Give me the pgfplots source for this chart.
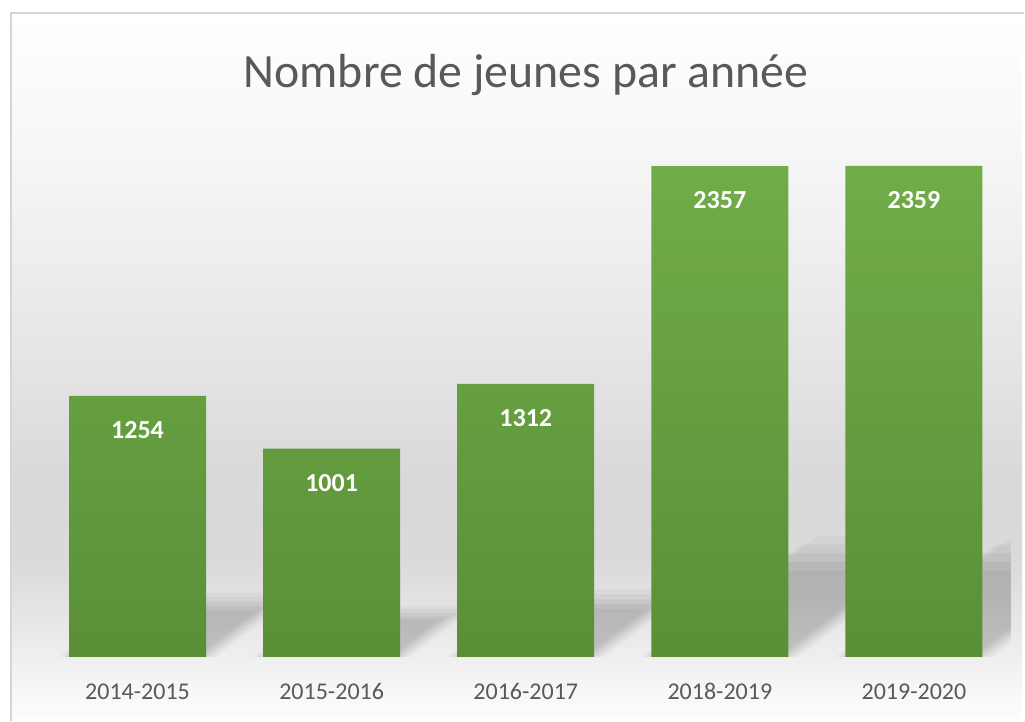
\documentclass[border=0pt]{standalone}
\usepackage{pgfplots}
\pgfplotsset{compat=1.18}
\usepackage{fontspec}
\setmainfont{Carlito}
\definecolor{txtgray}{HTML}{595959}
\definecolor{bartop}{HTML}{70AD47}
\definecolor{barbot}{HTML}{5A8F38}
\pgfdeclareverticalshading{bgshade}{100bp}{%
  color(0bp)=(white!99!black);
  color(25bp)=(white!99!black);
  color(27bp)=(white!97!black);
  color(30.6bp)=(white!92!black);
  color(36.2bp)=(white!85.5!black);
  color(42bp)=(white!85!black);
  color(49bp)=(white!89!black);
  color(58.2bp)=(white!93.5!black);
  color(67.4bp)=(white!97.5!black);
  color(75bp)=(white);
  color(100bp)=(white)}
\pgfplotstableread{
x  y
0  1254
1  1001
2  1312
3  2357
4  2359
}\datatable
% soft decorative shadow behind a bar: #1 = x position, #2 = value, #3 = scale, #4 = opacity, #5 = x offset
\newcommand{\shadowlayer}[5]{%
  \fill[black, opacity=#4]
    (axis cs:{#1-0.353+#5},0) -- (axis cs:{#1+0.353+#5},0)
    -- (axis cs:{#1+0.353+#5+#2*0.000307*#3},{#2*0.22*#3})
    -- (axis cs:{#1-0.353+#5+#2*0.000307*#3},{#2*0.22*#3}) -- cycle;
}
\newcommand{\shadowbar}[2]{%
  \shadowlayer{#1}{#2}{1.12}{0.03}{0.05}
  \shadowlayer{#1}{#2}{1.04}{0.04}{0.025}
  \shadowlayer{#1}{#2}{0.96}{0.045}{0}
  \shadowlayer{#1}{#2}{0.88}{0.05}{-0.025}
  \shadowlayer{#1}{#2}{0.80}{0.04}{-0.05}
}
\begin{document}
\begin{tikzpicture}
\fill[white] (0,0) rectangle (512.5pt,359.5pt);
\shade[shading=bgshade] (5.5pt,0pt) rectangle (511pt,353pt);
\draw[white!83!black, line width=1pt] (5.5pt,-1pt) -- (5.5pt,353pt) -- (512pt,353pt);
\node[text=txtgray, font=\fontsize{23.9}{28}\selectfont] at (263pt,322pt) {Nombre de jeunes par année};
\begin{axis}[
  at={(20.25pt,31pt)}, anchor=south west,
  scale only axis, width=485.25pt, height=258.5pt,
  xmin=-0.5, xmax=4.5, ymin=0, ymax=2483,
  axis line style={draw=none}, tick style={draw=none},
  ytick=\empty, xtick=data,
  xticklabels={2014-2015,2015-2016,2016-2017,2018-2019,2019-2020},
  xticklabel style={text=txtgray, font=\fontsize{12}{14}\selectfont, yshift=-5.5pt},
  ybar, bar width=68.5pt,
  nodes near coords,
  /pgf/number format/1000 sep={},
  /pgf/number format/assume math mode=true,
  every node near coord/.append style={text=white, font=\fontsize{13}{15}\selectfont\bfseries, anchor=center, yshift=-17pt},
]
\shadowbar{0}{1254}
\shadowbar{1}{1001}
\shadowbar{2}{1312}
\shadowbar{3}{2357}
\shadowbar{4}{2359}
\addplot[draw=none, top color=bartop, bottom color=barbot] table[x=x,y=y] {\datatable};
\end{axis}
\end{tikzpicture}
\end{document}
